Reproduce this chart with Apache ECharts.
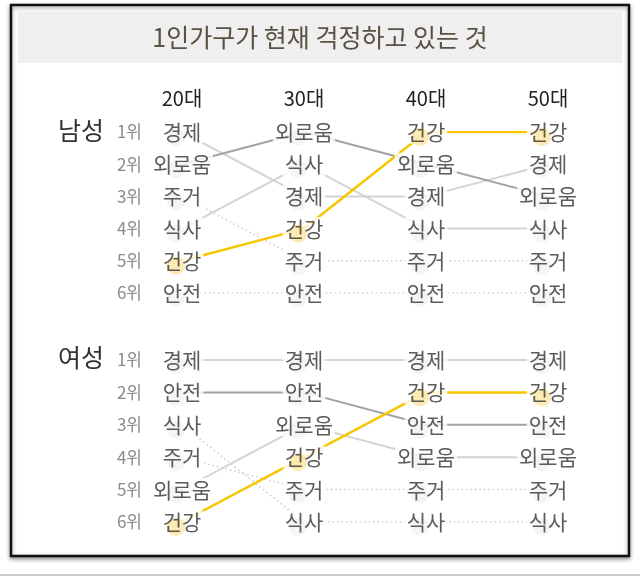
<!DOCTYPE html>
<html>
<head>
<meta charset="utf-8">
<script src="https://cdn.jsdelivr.net/npm/echarts@6/dist/echarts.min.js"></script>
<style>
  html, body { margin: 0; padding: 0; background: #fff; }
  #chart { width: 640px; height: 576px; }
</style>
</head>
<body>
<div id="chart"></div>
<script>
// 데이터
const ages = ["20대", "30대", "40대", "50대"];
const rankLabels = ["1위", "2위", "3위", "4위", "5위", "6위"];

// 남성: 항목별 연령대 순위
const maleIssues = ["경제", "외로움", "주거", "식사", "건강", "안전"];
const maleRanks = {
  "경제": [1, 3, 3, 2],
  "외로움": [2, 1, 2, 3],
  "주거": [3, 5, 5, 5],
  "식사": [4, 2, 4, 4],
  "건강": [5, 4, 1, 1],
  "안전": [6, 6, 6, 6]
};

// 여성: 항목별 연령대 순위
const femaleIssues = ["경제", "안전", "식사", "주거", "외로움", "건강"];
const femaleRanks = {
  "경제": [1, 1, 1, 1],
  "안전": [2, 2, 3, 3],
  "식사": [3, 6, 6, 6],
  "주거": [4, 5, 5, 5],
  "외로움": [5, 3, 4, 4],
  "건강": [6, 4, 2, 2]
};

// 선 스타일
const lineStyles = {
  yellow: { color: "#f6c700", width: 2.5, type: "solid" },
  dark: { color: "#a3a3a3", width: 2, type: "solid" },
  light: { color: "#d4d4d4", width: 2, type: "solid" },
  dot: { color: "#cccccc", width: 1.5, type: [1.5, 3] }
};
const maleStyle = { "건강": "yellow", "외로움": "dark", "경제": "light", "식사": "light", "주거": "dot", "안전": "dot" };
const femaleStyle = { "건강": "yellow", "안전": "dark", "경제": "light", "외로움": "light", "주거": "dot", "식사": "dot" };

const FONT = "'Noto Sans CJK KR', 'Noto Sans', sans-serif";
const LABEL_SIZE = 21;

const chart = echarts.init(document.getElementById("chart"));

function panelSeries(issues, ranks, styleMap, gi) {
  const out = [];
  const points = [];
  issues.forEach(name => {
    const data = ranks[name].map((r, j) => [j, r - 1]);
    const st = lineStyles[styleMap[name]];
    out.push({
      type: "line",
      xAxisIndex: gi, yAxisIndex: gi,
      data: data,
      symbol: "none",
      silent: true,
      z: name === "건강" ? 2 : 1,
      lineStyle: { color: st.color, width: st.width, type: st.type }
    });
    data.forEach(d => points.push([d[0], d[1], name]));
  });
  // 라벨 뒤 흰 배경 (선 끝을 가림)
  out.push({
    type: "scatter",
    xAxisIndex: gi, yAxisIndex: gi,
    data: points,
    symbolSize: 1,
    itemStyle: { color: "rgba(0,0,0,0)" },
    silent: true,
    z: 3,
    label: {
      show: true, position: "inside",
      formatter: p => p.value[2],
      fontFamily: FONT, fontSize: LABEL_SIZE,
      color: "rgba(0,0,0,0)",
      backgroundColor: "#fff",
      padding: [1, 2]
    }
  });
  // 동그라미 + 글자
  out.push({
    type: "scatter",
    xAxisIndex: gi, yAxisIndex: gi,
    data: points.map(p => ({
      value: p,
      itemStyle: { color: p[2] === "건강" ? "#fbe6a2" : "#f2f2f2" }
    })),
    symbolSize: 18,
    symbolOffset: [-6, 5],
    silent: true,
    z: 4,
    label: {
      show: true, position: "inside",
      offset: [6, -5],
      formatter: p => p.value[2],
      fontFamily: FONT, fontSize: LABEL_SIZE,
      color: "#333"
    }
  });
  return out;
}

const grids = [
  { left: 182, right: 92, top: 132, height: 161 },
  { left: 182, right: 92, top: 360, height: 162 }
];

const xAxes = grids.map((g, i) => ({
  type: "category",
  gridIndex: i,
  data: ages,
  boundaryGap: false,
  position: "top",
  axisLine: { show: false },
  axisTick: { show: false },
  splitLine: { show: false },
  axisLabel: {
    show: i === 0,
    margin: 24,
    fontFamily: FONT, fontSize: 20, color: "#222"
  }
}));

const yAxes = grids.map((g, i) => ({
  type: "category",
  gridIndex: i,
  data: rankLabels,
  boundaryGap: false,
  inverse: true,
  axisLine: { show: false },
  axisTick: { show: false },
  splitLine: { show: false },
  axisLabel: {
    margin: 40,
    fontFamily: FONT, fontSize: 17, color: "#8a8a8a"
  }
}));

chart.setOption({
  backgroundColor: "#fff",
  animation: false,
  title: {
    text: "1인가구가 현재 걱정하고 있는 것",
    left: "center",
    top: 20,
    textStyle: { fontFamily: FONT, fontSize: 25, fontWeight: "normal", color: "#5b5142" }
  },
  graphic: [
    {
      type: "rect", z: -10,
      shape: { x: 11, y: 5, width: 618, height: 551 },
      style: { fill: "#fff", stroke: "#111", lineWidth: 2.5, shadowBlur: 4, shadowColor: "rgba(0,0,0,0.4)", shadowOffsetY: 2 }
    },
    {
      type: "rect", z: -9,
      shape: { x: 18, y: 12, width: 604, height: 51 },
      style: { fill: "#efefef" }
    },
    {
      type: "line", z: -10,
      shape: { x1: 0, y1: 575, x2: 640, y2: 575 },
      style: { stroke: "#bbb", lineWidth: 1.5 }
    },
    {
      type: "text", left: 58, top: 118,
      style: { text: "남성", font: "25px " + FONT, fill: "#333" }
    },
    {
      type: "text", left: 58, top: 345,
      style: { text: "여성", font: "25px " + FONT, fill: "#333" }
    }
  ],
  grid: grids,
  xAxis: xAxes,
  yAxis: yAxes,
  series: [].concat(
    panelSeries(maleIssues, maleRanks, maleStyle, 0),
    panelSeries(femaleIssues, femaleRanks, femaleStyle, 1)
  )
});
</script>
</body>
</html>
